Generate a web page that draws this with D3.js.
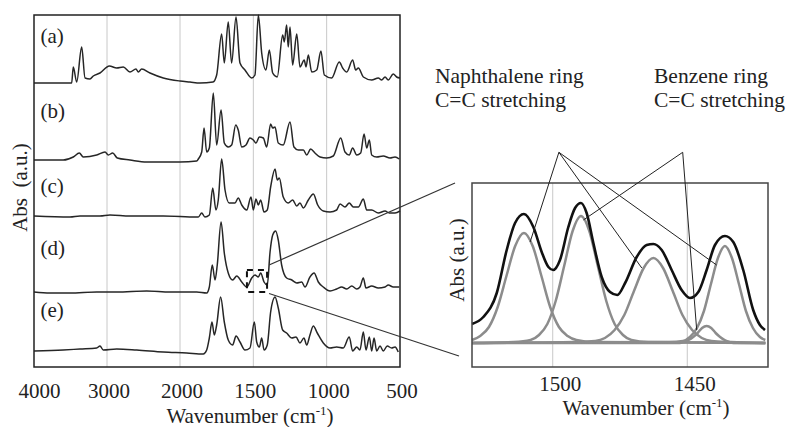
<!DOCTYPE html>
<html>
<head>
<meta charset="utf-8">
<script src="https://cdn.jsdelivr.net/npm/d3@7"></script>
<style>
  body { margin: 0; background: #fff; }
  text { font-family: "Liberation Serif", "Times New Roman", serif; fill: #222; }
</style>
</head>
<body>
<script>
// FTIR spectra, [wavenumber, abs] pairs, abs measured from each trace's own baseline
const specA = [[4000,0],[3484,0],[3462,0.16],[3415,0.01],[3347,0.36],[3301,0.05],[3233,0.04],[3188,0.07],[3096,0.10],[2968,0.17],[2867,0.15],[2777,0.16],[2685,0.11],[2603,0.14],[2571,0.11],[2525,0.14],[2411,0.10],[2229,0.05],[2000,0.02],[1932,0.01],[1864,0],[1775,0.01],[1750,0.08],[1716,0.49],[1698,0.20],[1671,0.61],[1648,0.20],[1618,0.66],[1591,0.20],[1557,0.13],[1511,0.05],[1489,0.08],[1466,0.68],[1443,0.30],[1414,0.13],[1391,0.33],[1368,0.10],[1337,0.06],[1300,0.48],[1289,0.41],[1273,0.58],[1262,0.36],[1250,0.56],[1232,0.18],[1204,0.49],[1182,0.16],[1153,0.23],[1141,0.16],[1125,0.28],[1102,0.11],[1068,0.13],[1039,0.32],[1016,0.08],[966,0.05],[914,0.21],[891,0.15],[863,0.11],[823,0.23],[802,0.13],[784,0.15],[750,0.06],[693,0.03],[648,0.05],[625,0.03],[602,0.06],[580,0.03],[546,0.09],[523,0.06],[500,0.05]];
const specB = [[4000,0],[3599,0],[3462,0.03],[3379,0.07],[3325,0.03],[3141,0.05],[3027,0.08],[2982,0.05],[2922,0.07],[2859,0.02],[2685,0],[2456,-0.02],[2000,-0.02],[1886,-0.01],[1875,0.01],[1852,0.08],[1836,0.32],[1818,0.08],[1800,0.12],[1773,0.67],[1750,0.15],[1720,0.50],[1698,0.17],[1671,0.13],[1648,0.15],[1620,0.35],[1603,0.30],[1579,0.13],[1550,0.15],[1523,0.22],[1500,0.20],[1482,0.17],[1459,0.23],[1432,0.22],[1409,0.13],[1382,0.36],[1368,0.32],[1352,0.33],[1330,0.17],[1296,0.15],[1250,0.38],[1223,0.13],[1193,0.10],[1159,0.10],[1136,0.05],[1109,0.11],[1080,0.07],[1045,0.03],[1000,0.02],[955,0.04],[904,0.22],[875,0.08],[846,0.05],[823,0.12],[795,0.05],[768,0.07],[745,0.26],[727,0.12],[709,0.20],[693,0.05],[659,0.03],[614,0.04],[568,0.02],[534,0.03],[505,0.01]];
const specC = [[4000,0.01],[3507,0],[3370,0.01],[3096,0.01],[2959,0.02],[2685,0.01],[2229,0.01],[1886,0],[1875,0],[1852,0.04],[1830,0],[1800,0.02],[1777,0.29],[1755,0.07],[1739,0.17],[1716,0.58],[1693,0.27],[1664,0.14],[1625,0.14],[1603,0.19],[1579,0.12],[1545,0.07],[1516,0.20],[1500,0.07],[1482,0.18],[1466,0.12],[1450,0.17],[1427,0.05],[1405,0.07],[1382,0.30],[1352,0.48],[1337,0.37],[1323,0.39],[1296,0.20],[1262,0.14],[1232,0.17],[1204,0.11],[1182,0.14],[1159,0.09],[1125,0.17],[1091,0.23],[1061,0.12],[1023,0.06],[977,0.05],[932,0.07],[909,0.13],[875,0.10],[846,0.14],[818,0.10],[784,0.10],[750,0.18],[727,0.07],[693,0.07],[648,0.04],[602,0.06],[573,0.04],[534,0.04],[500,0.06]];
const specD = [[4000,0.01],[3781,0],[3507,0],[3141,0.01],[2867,0.01],[2456,0.02],[2137,0.01],[1886,0.01],[1818,0],[1800,0.06],[1780,0.28],[1761,0.13],[1746,0.28],[1720,0.71],[1698,0.40],[1671,0.20],[1641,0.13],[1613,0.17],[1579,0.11],[1545,0.06],[1511,0.15],[1489,0.18],[1466,0.16],[1450,0.20],[1427,0.11],[1405,0.08],[1386,0.41],[1368,0.58],[1348,0.62],[1330,0.53],[1307,0.28],[1273,0.15],[1238,0.13],[1204,0.10],[1170,0.11],[1148,0.06],[1114,0.16],[1086,0.20],[1057,0.11],[1023,0.06],[977,0.02],[932,0.04],[898,0.06],[863,0.04],[829,0.07],[795,0.04],[773,0.06],[750,0.15],[732,0.05],[693,0.07],[648,0.05],[602,0.06],[580,0.08],[546,0.06],[505,0.06]];
const specE = [[4000,0.01],[3599,0.02],[3370,0.03],[3141,0.04],[3096,0.06],[3051,0.02],[2867,0.03],[2593,0.02],[2229,0],[1954,-0.01],[1841,-0.02],[1818,0.02],[1800,0.14],[1782,0.30],[1766,0.17],[1750,0.27],[1723,0.55],[1698,0.30],[1671,0.12],[1641,0.07],[1618,0.16],[1591,0.10],[1557,0.02],[1523,0.04],[1493,0.30],[1477,0.10],[1459,0.05],[1443,0.14],[1427,0.02],[1405,0.07],[1382,0.40],[1352,0.55],[1330,0.44],[1300,0.22],[1273,0.19],[1238,0.14],[1209,0.15],[1182,0.09],[1155,0.14],[1136,0.07],[1114,0.17],[1091,0.26],[1064,0.19],[1023,0.09],[977,0.04],[932,0.05],[887,0.04],[846,0.15],[823,0.01],[795,0.05],[773,0.02],[750,0.20],[732,0.02],[709,0.15],[693,0.01],[677,0.14],[659,0.01],[636,0.06],[614,0.01],[587,0.06],[557,0.04],[534,0.05],[512,0]];

const spectra = [specA, specB, specC, specD, specE];
const specLabels = ["(a)", "(b)", "(c)", "(d)", "(e)"];
const specOffsets = [2.84, 2.07, 1.50, 0.74, 0.15];
const mainTicks = [4000, 3000, 2000, 1500, 1000, 500];
const mainGrid = [3000, 2000, 1500, 1000];

// peak fitting of trace (d) between 1530 and 1420 cm-1
const fitSum = [[1530,0.43],[1525.8,0.50],[1520.8,0.74],[1517.1,1.17],[1514.0,1.44],[1510.7,1.53],[1507.2,1.40],[1504.1,1.15],[1501.6,1.00],[1499.8,0.97],[1497.3,1.07],[1494.2,1.40],[1491.7,1.59],[1489.5,1.64],[1487.4,1.54],[1484.9,1.24],[1481.8,0.90],[1478.7,0.75],[1476.0,0.72],[1473.1,0.84],[1468.8,1.10],[1465.1,1.22],[1462.6,1.23],[1459.5,1.17],[1455.8,0.97],[1452.1,0.77],[1449.0,0.69],[1445.9,0.75],[1442.8,0.97],[1439.7,1.22],[1436.0,1.31],[1432.9,1.25],[1429.2,0.97],[1425.5,0.57],[1423.0,0.42],[1421.1,0.37]];
const fitPeak1 = [[1530,0.27],[1526.95,0.31],[1523.7,0.40],[1520.45,0.60],[1517.2,0.91],[1513.95,1.21],[1510.7,1.34],[1507.45,1.21],[1504.2,0.91],[1500.95,0.60],[1497.7,0.40],[1494.45,0.31],[1491.2,0.27],[1484.7,0.25],[1421,0.24]];
const fitPeak2 = [[1530,0.24],[1514.5,0.25],[1508.25,0.27],[1505.1,0.32],[1502,0.43],[1498.9,0.66],[1495.75,1.01],[1492.6,1.36],[1489.5,1.51],[1486.4,1.36],[1483.25,1.01],[1480.1,0.66],[1477,0.43],[1473.9,0.32],[1470.75,0.27],[1464.5,0.25],[1421,0.24]];
const fitPeak3 = [[1530,0.24],[1491.4,0.25],[1484.2,0.26],[1480.6,0.29],[1477,0.37],[1473.4,0.52],[1469.8,0.76],[1466.2,0.99],[1462.6,1.09],[1459,0.99],[1455.4,0.76],[1451.8,0.52],[1448.2,0.37],[1444.6,0.29],[1441,0.26],[1433.8,0.25],[1421,0.24]];
const fitPeak4 = [[1530,0.24],[1452.8,0.24],[1451.2,0.25],[1449.5,0.27],[1447.8,0.30],[1446.15,0.34],[1444.5,0.39],[1442.8,0.41],[1441.1,0.39],[1439.45,0.34],[1437.8,0.30],[1436.1,0.27],[1434.4,0.25],[1432.8,0.24],[1421,0.24]];
const fitPeak5 = [[1530,0.24],[1456.8,0.25],[1451.6,0.26],[1449,0.30],[1446.4,0.39],[1443.8,0.56],[1441.2,0.83],[1438.6,1.09],[1436,1.21],[1433.4,1.09],[1430.8,0.83],[1428.2,0.56],[1425.6,0.39],[1423,0.30],[1421,0.27]];
const fitPeaks = [fitPeak1, fitPeak2, fitPeak3, fitPeak4, fitPeak5];
const insetTicks = [1500, 1450];
const insetDomain = [1530, 1420];

// annotation pointers, in inset data units
const naphApex = [1497.7, 2.147];
const naphTargets = [[1508.4, 1.25], [1466.9, 0.99], [1439.1, 1.02]];
const benzApex = [1451.7, 2.147];
const benzTargets = [[1488.6, 1.47], [1446.5, 0.37]];

const font = "21px";
const main = {left: 34, top: 15, right: 400, bottom: 367};
const ins = {left: 472, top: 183, right: 768, bottom: 367};

let svg = d3.select("body").append("svg")
  .attr("width", 787)
  .attr("height", 427)
  .attr("style", "background: #fff");

// the wavenumber axis is expanded below 2000 cm-1
let x = d3.scaleLinear().domain([4000, 2000, 500]).range([main.left, 180, main.right]);
let y = d3.scaleLinear().domain([0, 3.52]).range([main.bottom, main.top]);
let xi = d3.scaleLinear().domain(insetDomain).range([ins.left, ins.right]);
let yi = d3.scaleLinear().domain([0, 1.84]).range([ins.bottom, ins.top]);

function wavenumberTitle(cx, cy) {
  let t = svg.append("text")
    .attr("x", cx)
    .attr("y", cy)
    .attr("text-anchor", "middle")
    .style("font-size", font);
  t.append("tspan").text("Wavenumber (cm");
  t.append("tspan").attr("dy", -8).style("font-size", "13px").text("-1");
  t.append("tspan").attr("dy", 8).text(")");
}

function drawMain() {
  svg.append("g").selectAll("line")
    .data(mainGrid)
    .enter()
    .append("line")
    .attr("x1", d => x(d)).attr("x2", d => x(d))
    .attr("y1", main.top).attr("y2", main.bottom)
    .attr("stroke", "#c8c8c8")
    .attr("stroke-width", 1);

  let line = d3.line().curve(d3.curveMonotoneX);
  svg.append("g").selectAll("path")
    .data(spectra)
    .enter()
    .append("path")
    .attr("d", (s, i) => line(s.map(p => [x(p[0]), y(p[1] + specOffsets[i])])))
    .attr("fill", "none")
    .attr("stroke", "#262626")
    .attr("stroke-width", 1.5);

  svg.append("rect")
    .attr("x", main.left).attr("y", main.top)
    .attr("width", main.right - main.left)
    .attr("height", main.bottom - main.top)
    .attr("fill", "none")
    .attr("stroke", "#222")
    .attr("stroke-width", 1.5);

  // trace labels sit a little above each baseline
  const labelRise = [0.405, 0.425, 0.24, 0.38, 0.35];
  svg.append("g").selectAll("text")
    .data(specLabels)
    .enter()
    .append("text")
    .attr("x", 40.5)
    .attr("y", (d, i) => y(specOffsets[i] + labelRise[i]))
    .style("font-size", font)
    .text(d => d);

  let xAxis = d3.axisBottom(x).tickValues(mainTicks).tickSize(0).tickFormat(d3.format("d"));
  let gX = svg.append("g")
    .attr("transform", "translate(0," + main.bottom + ")")
    .call(xAxis);
  gX.select(".domain").remove();
  gX.selectAll("text")
    .attr("y", 31)
    .attr("dy", null)
    .attr("dx", d => d === 4000 ? 5 : 1.5)
    .attr("fill", "#222")
    .style("font-size", font)
    .style("font-family", "Liberation Serif");

  wavenumberTitle(250, 423);

  svg.append("text")
    .attr("transform", "translate(27,187.5) rotate(-90)")
    .attr("text-anchor", "middle")
    .style("font-size", font)
    .style("white-space", "pre")
    .text("Abs  (a.u.)");
}

function drawZoom() {
  // dashed box marking the fitted region on trace (d)
  let bx0 = x(insetDomain[0]) - 2, bx1 = x(insetDomain[1]) + 2;
  let by0 = y(specOffsets[3] + 0.23), by1 = y(specOffsets[3] + 0.01);
  svg.append("rect")
    .attr("x", bx0).attr("y", by0)
    .attr("width", bx1 - bx0).attr("height", by1 - by0)
    .attr("fill", "none")
    .attr("stroke", "#111")
    .attr("stroke-width", 2)
    .attr("stroke-dasharray", "6,5");

  svg.append("line")
    .attr("x1", bx1 + 2).attr("y1", by0 - 5)
    .attr("x2", ins.left - 17).attr("y2", ins.top)
    .attr("stroke", "#333").attr("stroke-width", 1.2);
  svg.append("line")
    .attr("x1", bx1 + 2).attr("y1", by1 + 1.5)
    .attr("x2", ins.left - 13).attr("y2", ins.bottom - 11)
    .attr("stroke", "#333").attr("stroke-width", 1.2);
}

function drawInset() {
  svg.append("g").selectAll("line")
    .data(insetTicks)
    .enter()
    .append("line")
    .attr("x1", d => xi(d)).attr("x2", d => xi(d))
    .attr("y1", ins.top).attr("y2", ins.bottom)
    .attr("stroke", "#c8c8c8")
    .attr("stroke-width", 1);

  let line = d3.line().x(d => xi(d[0])).y(d => yi(d[1])).curve(d3.curveMonotoneX);

  svg.append("g").selectAll("path")
    .data(fitPeaks)
    .enter()
    .append("path")
    .attr("d", line)
    .attr("fill", "none")
    .attr("stroke", "#8c8c8c")
    .attr("stroke-width", 2.5);

  svg.append("path")
    .attr("d", line(fitSum))
    .attr("fill", "none")
    .attr("stroke", "#111")
    .attr("stroke-width", 2.6);

  svg.append("rect")
    .attr("x", ins.left).attr("y", ins.top)
    .attr("width", ins.right - ins.left)
    .attr("height", ins.bottom - ins.top)
    .attr("fill", "none")
    .attr("stroke", "#444")
    .attr("stroke-width", 1.5);

  svg.append("g").selectAll("text")
    .data(insetTicks)
    .enter()
    .append("text")
    .attr("x", d => xi(d) + 7.5)
    .attr("y", 390.5)
    .attr("text-anchor", "middle")
    .style("font-size", font)
    .text(d => d);

  wavenumberTitle(646, 414.5);

  svg.append("text")
    .attr("transform", "translate(464,260) rotate(-90)")
    .attr("text-anchor", "middle")
    .style("font-size", font)
    .text("Abs (a.u.)");
}

function drawAnnotations() {
  let groups = [
    {x: 435, lines: ["Naphthalene ring", "C=C stretching"], apex: naphApex, targets: naphTargets},
    {x: 654, lines: ["Benzene ring", "C=C stretching"], apex: benzApex, targets: benzTargets}
  ];
  groups.forEach(g => {
    g.lines.forEach((t, i) => {
      svg.append("text")
        .attr("x", g.x)
        .attr("y", 83.3 + i * 23.4)
        .style("font-size", "21.5px")
        .text(t);
    });
    svg.append("g").selectAll("line")
      .data(g.targets)
      .enter()
      .append("line")
      .attr("x1", xi(g.apex[0])).attr("y1", yi(g.apex[1]))
      .attr("x2", d => xi(d[0])).attr("y2", d => yi(d[1]))
      .attr("stroke", "#222")
      .attr("stroke-width", 1);
  });
}

drawMain();
drawZoom();
drawInset();
drawAnnotations();
</script>
</body>
</html>
